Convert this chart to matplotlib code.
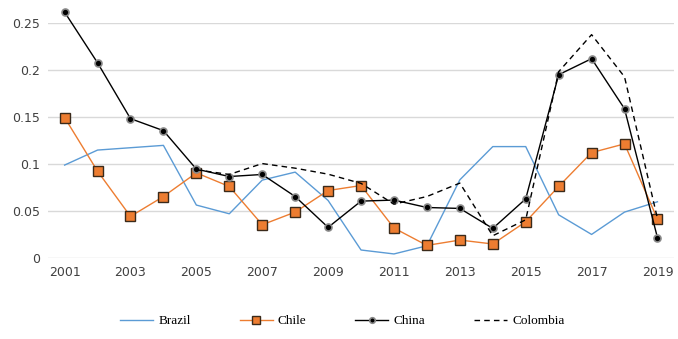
import matplotlib
matplotlib.use('Agg')
import matplotlib.pyplot as plt
import numpy as np

years = list(range(2001, 2020))

brazil = [0.099, 0.115, 0.1175, 0.120, 0.0564, 0.0471, 0.083, 0.0915, 0.0613, 0.0085,
          0.0043, 0.013, 0.0833, 0.1187, 0.1187, 0.046, 0.0251, 0.0489, 0.0599]
chile = [0.1496, 0.0925, 0.0443, 0.0655, 0.0907, 0.0762, 0.0354, 0.0489, 0.0719, 0.0772,
         0.0319, 0.0134, 0.0191, 0.0149, 0.0386, 0.0762, 0.1123, 0.1216, 0.0415]
china = [0.262, 0.208, 0.1485, 0.1357, 0.0947, 0.0868, 0.089, 0.0655, 0.0326, 0.0606,
         0.0617, 0.0538, 0.0528, 0.0315, 0.063, 0.1953, 0.2124, 0.159, 0.0216]
colombia = [np.nan, np.nan, np.nan, np.nan, 0.094, 0.089, 0.1006, 0.0957, 0.0893, 0.0795,
            0.0574, 0.0655, 0.0798, 0.0237, 0.0407, 0.1985, 0.238, 0.193, 0.042]

fig = plt.figure(figsize=(6.78, 3.39), dpi=100)
ax = fig.add_axes([0.071, 0.239, 0.923, 0.692])

ax.plot(years, brazil, color='#5B9BD5', lw=1.0, label='Brazil')
ax.plot(years, chile, color='#ED7D31', lw=1.0, marker='s', markersize=7,
        markerfacecolor='#ED7D31', markeredgecolor='#3a2a1a', markeredgewidth=1.0,
        label='Chile', clip_on=False)
ax.plot(years, china, color='black', lw=1.0, marker='o', markersize=5,
        markerfacecolor='black', markeredgecolor='#888888', markeredgewidth=1.2,
        label='China', clip_on=False)
ax.plot(years, colombia, color='black', lw=1.0, ls=(0, (4, 3)), label='Colombia',
        clip_on=False)

ax.set_xlim(2000.5, 2019.5)
ax.set_ylim(0, 0.25)
ax.set_xticks(range(2001, 2020, 2))
ax.set_yticks([0, 0.05, 0.1, 0.15, 0.2, 0.25])
ax.set_yticklabels(['0', '0.05', '0.1', '0.15', '0.2', '0.25'])
ax.tick_params(length=0, labelsize=9, colors='#404040', pad=6)
ax.grid(axis='y', color='#d9d9d9', lw=1)
ax.set_axisbelow(True)
for s in ax.spines.values():
    s.set_visible(False)

fig.legend(loc='lower center', bbox_to_anchor=(0.505, 0.0), ncol=4, frameon=False,
           handlelength=2.5, handletextpad=0.4, columnspacing=3.7,
           markerscale=0.8, prop={'family': 'Liberation Serif', 'size': 9.5})

fig.savefig('out.png', dpi=100)
